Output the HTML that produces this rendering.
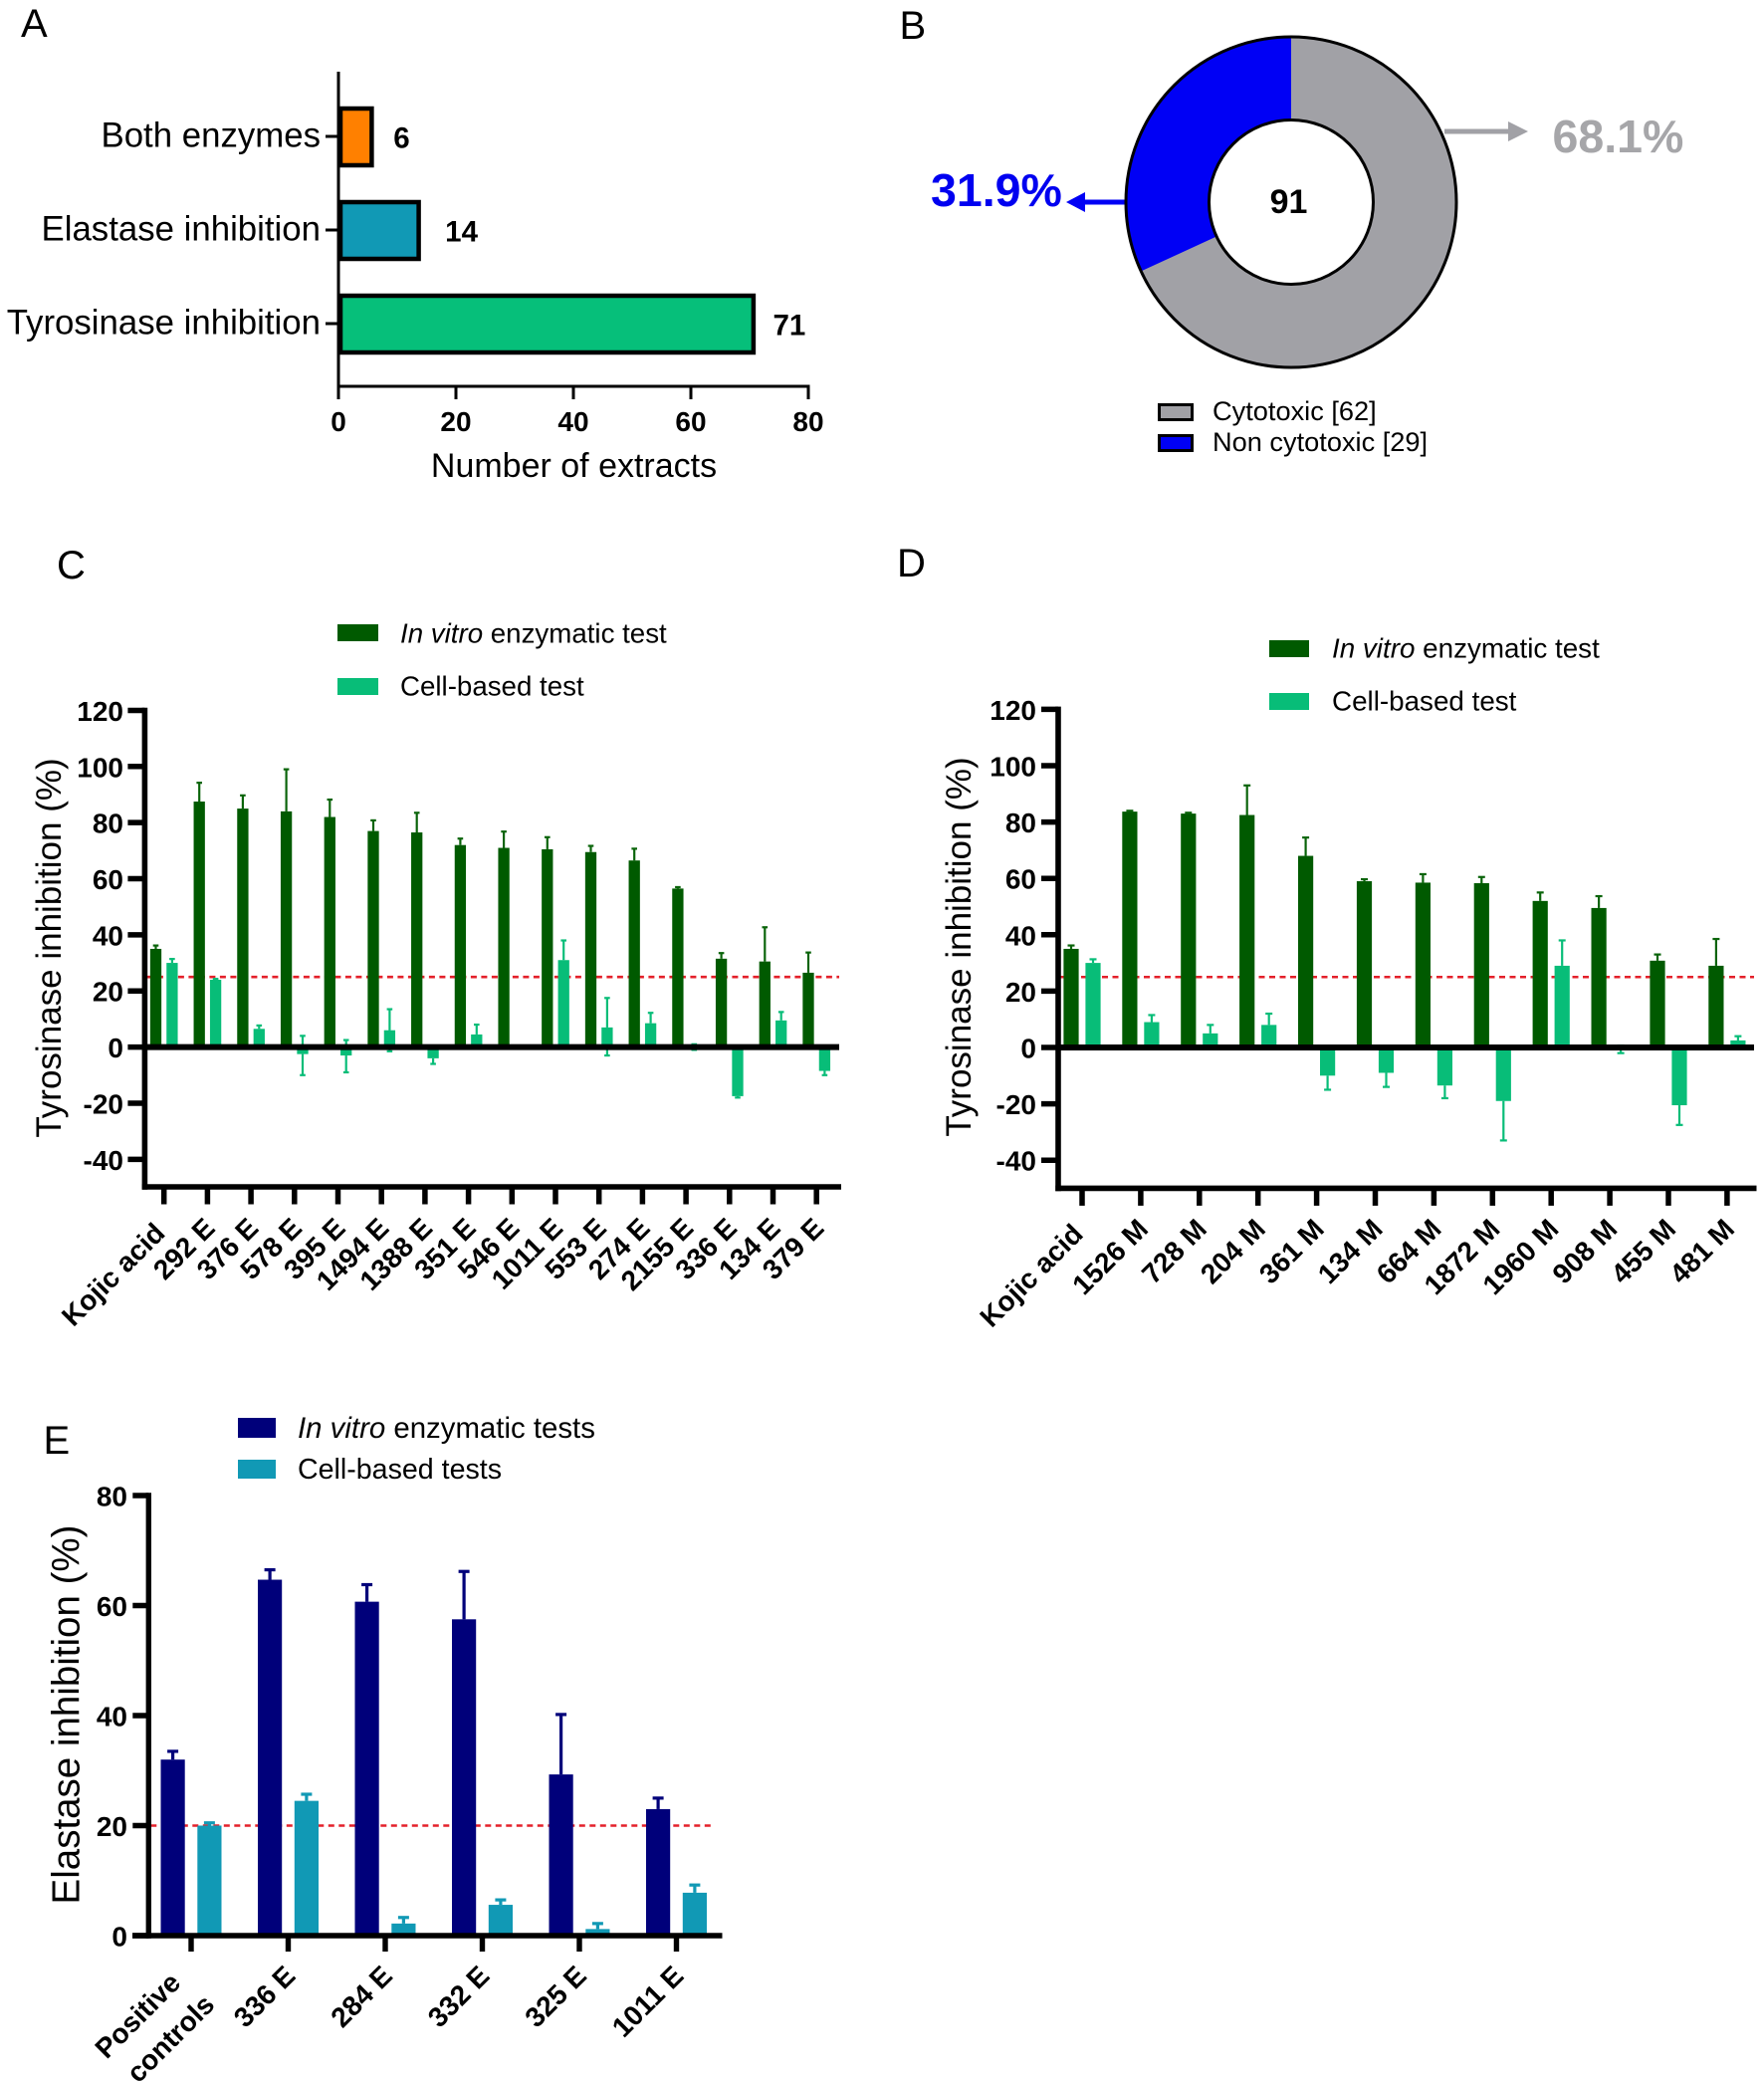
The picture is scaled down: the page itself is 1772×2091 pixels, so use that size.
<!DOCTYPE html>
<html lang="en">
<head>
<meta charset="utf-8">
<title>Extract screening figure</title>
<style>
html,body{margin:0;padding:0;background:#fff}
svg{display:block}
text{font-family:"Liberation Sans",Arial,sans-serif;fill:#000}
.b{font-weight:700}
.pl{font-size:40px}
</style>
</head>
<body>
<svg id="fig" xmlns="http://www.w3.org/2000/svg" width="1772" height="2091" viewBox="0 0 1772 2091">
  <rect x="0" y="0" width="1772" height="2091" fill="#fff"/>

  <text class="pl" x="21" y="37">A</text>
  <text class="pl" x="903.5" y="39">B</text>
  <text class="pl" x="57" y="581">C</text>
  <text class="pl" x="901" y="579">D</text>
  <text class="pl" x="43.5" y="1460">E</text>

  <g id="panelA">
    <text x="576.5" y="479" font-size="34" text-anchor="middle">Number of extracts</text>
  </g>

  <g id="panelB">
    <rect x="1164.5" y="406.5" width="33" height="15" fill="#a1a1a6" stroke="#000" stroke-width="3"/>
    <rect x="1164.5" y="437.5" width="33" height="15" fill="#0000f5" stroke="#000" stroke-width="3"/>
    <text x="1218" y="422" font-size="27.2">Cytotoxic [62]</text>
    <text x="1218" y="453" font-size="27.2">Non cytotoxic [29]</text>
    <path d="M1451 132H1518" stroke="#a1a1a6" stroke-width="5" fill="none"/>
    <path d="M1535 132L1515 122V142Z" fill="#a1a1a6"/>
    <path d="M1130 203H1086" stroke="#0000f5" stroke-width="5" fill="none"/>
    <path d="M1071 203L1090 193V213Z" fill="#0000f5"/>
    <text class="b" x="1559.5" y="153" font-size="46.5" style="fill:#a6a6a9">68.1%</text>
    <text class="b" x="935" y="207" font-size="46.5" style="fill:#0000f0">31.9%</text>
  </g>

  <g id="panelC">
    <text transform="translate(61,952) rotate(-90)" font-size="35" text-anchor="middle">Tyrosinase inhibition (%)</text>
    <rect x="339" y="627" width="41" height="17" fill="#005a00"/>
    <rect x="339" y="681" width="41" height="17" fill="#08bd78"/>
    <text x="402" y="645.5" font-size="27.7"><tspan font-style="italic">In vitro</tspan> enzymatic test</text>
    <text x="402" y="698.5" font-size="27.7">Cell-based test</text>
  </g>

  <g id="panelD">
    <text transform="translate(975,951) rotate(-90)" font-size="35" text-anchor="middle">Tyrosinase inhibition (%)</text>
    <rect x="1275" y="643" width="40" height="17" fill="#005a00"/>
    <rect x="1275" y="696" width="40" height="17" fill="#08bd78"/>
    <text x="1338" y="660.5" font-size="27.8"><tspan font-style="italic">In vitro</tspan> enzymatic test</text>
    <text x="1338" y="713.5" font-size="27.8">Cell-based test</text>
  </g>

  <g id="panelE">
    <text transform="translate(79.5,1722) rotate(-90)" font-size="38.5" text-anchor="middle">Elastase inhibition (%)</text>
    <rect x="239" y="1424" width="38" height="20" fill="#00007a"/>
    <rect x="239" y="1466" width="38" height="19" fill="#1199b5"/>
    <text x="299" y="1444" font-size="29.4"><tspan font-style="italic">In vitro</tspan> enzymatic tests</text>
    <text x="299" y="1485" font-size="28.6">Cell-based tests</text>
  </g>
</svg>

<script>
// ---- Panel A data ----
var aCategories = ['Both enzymes', 'Elastase inhibition', 'Tyrosinase inhibition'];
var aValues = [6, 14, 71];
var aTicks = [0, 20, 40, 60, 80];

// ---- Panel B data ----
var bCytotoxic = 62;
var bNonCytotoxic = 29;

// ---- Panel C data ----
var cCategories = ['Kojic acid','292 E','376 E','578 E','395 E','1494 E','1388 E','351 E','546 E','1011 E','553 E','274 E','2155 E','336 E','134 E','379 E'];
var cVitro = [35,87.5,85,84,82,77,76.5,72,71,70.5,69.5,66.5,56.5,31.5,30.5,26.5];
var cVitroErr = [1.2,6.7,4.7,15,6.2,3.8,7,2.3,5.8,4.3,2.2,4.2,0.5,2,12.2,7.2];
var cCell = [30,24,6.5,-2.5,-3,6,-4,4.5,0,31,7,8.5,-0.5,-17.5,9.5,-8.5];
var cCellErrUp = [1.4,0.3,1.2,6.5,5.5,7.5,0,3.5,0,7,10.5,3.7,1.5,0,3,0];
var cCellErrDown = [0,0,0,7.5,6,7.5,2,0,0,0,10,0,0.5,0.5,0,1.5];
var cTicks = [-40,-20,0,20,40,60,80,100,120];
var cThreshold = 25;

// ---- Panel D data ----
var dCategories = ['Kojic acid','1526 M','728 M','204 M','361 M','134 M','664 M','1872 M','1960 M','908 M','455 M','481 M'];
var dVitro = [35,83.7,83,82.5,68,59,58.5,58.3,52,49.5,30.8,29];
var dVitroErr = [1.2,0.3,0.3,10.5,6.5,0.7,3,2.2,3,4.2,2.2,9.5];
var dCell = [30,9,5,8,-10,-9,-13.5,-19,29,-0.3,-20.5,2.5];
var dCellErrUp = [1.3,2.5,3,4,0,0,0,0,9,1,0,1.5];
var dCellErrDown = [0,0,0,0,5,5,4.5,14,0,1.7,7,0];
var dTicks = [-40,-20,0,20,40,60,80,100,120];
var dThreshold = 25;

// ---- Panel E data ----
var eCategories = ['Positive|controls','336 E','284 E','332 E','325 E','1011 E'];
var eVitro = [32,64.7,60.7,57.5,29.3,23];
var eVitroErr = [1.5,1.8,3.1,8.7,10.9,2];
var eCell = [20,24.5,2.2,5.6,1.2,7.8];
var eCellErr = [0.5,1.2,1.1,0.9,1,1.4];
var eCellErrDown = [0,0,0,0,0,0];
var eTicks = [0,20,40,60,80];
var eThreshold = 20;

var NS = 'http://www.w3.org/2000/svg';
function mk(tag, parent, props) {
  var el = document.createElementNS(NS, tag);
  for (var k in props) el.setAttribute(k, props[k]);
  parent.appendChild(el);
  return el;
}
function line(parent, x1, y1, x2, y2, color, w) {
  return mk('line', parent, {x1:x1, y1:y1, x2:x2, y2:y2, stroke:color, 'stroke-width':w});
}

// ---------- Panel A ----------
(function () {
  var g = document.getElementById('panelA');
  var xA = function (v) { return 340 + v * 5.9; };
  var rowA = function (i) { return 137 + i * 94; };
  var labelGap = [28, 41, 34];
  var axisY = line(g, 340, 72, 340, 388, '#000', 3);
  
  
  var axisX = line(g, 340, 388, xA(80) + 1.5, 388, '#000', 3);
  
  
  var fills = ['#ff8000', '#1199b5', '#06bf7a'];
  aCategories.forEach(function (c, i) {
    var bar = mk('rect', g, {x:342, y:rowA(i) - 28, width:xA(aValues[i]) - 344, height:57, fill:fills[i], stroke:'#000', 'stroke-width':4.5});
    
    
    var tick = line(g, 327, rowA(i), 340, rowA(i), '#000', 3);
    
    
    var lab = mk('text', g, {x:322, y:rowA(i) + 10.5, 'font-size':34.8, 'text-anchor':'end'});
    lab.textContent = c;
    
    
    var val = mk('text', g, {x:xA(aValues[i]) + labelGap[i], y:rowA(i) + 11.5, 'font-size':29.5, 'font-weight':700, 'text-anchor':'middle'});
    val.textContent = aValues[i];
    
    
  });
  aTicks.forEach(function (t) {
    var tk = line(g, xA(t), 388, xA(t), 401, '#000', 3);
    
    
    var lab = mk('text', g, {x:xA(t), y:433, 'font-size':28, 'font-weight':700, 'text-anchor':'middle'});
    lab.textContent = t;
    
    
  });
})();

// ---------- Panel B ----------
(function () {
  var g = document.getElementById('panelB');
  var cx = 1297, cy = 203, R = 166, r = 82.5;
  var total = bCytotoxic + bNonCytotoxic;
  var a = 2 * Math.PI * bNonCytotoxic / total;
  var ex = cx - R * Math.sin(a), ey = cy - R * Math.cos(a);
  var ix = cx - r * Math.sin(a), iy = cy - r * Math.cos(a);
  var base = mk('circle', g, {cx:cx, cy:cy, r:R, fill:'#a1a1a6'});
  
  
  var large = a > Math.PI ? 1 : 0;
  var slice = mk('path', g, {d:'M' + cx + ' ' + (cy - R) + 'A' + R + ' ' + R + ' 0 ' + large + ' 0 ' + ex + ' ' + ey + 'L' + ix + ' ' + iy + 'A' + r + ' ' + r + ' 0 ' + large + ' 1 ' + cx + ' ' + (cy - r) + 'Z', fill:'#0000f5'});
  
  
  var outer = mk('circle', g, {cx:cx, cy:cy, r:R, fill:'none', stroke:'#000', 'stroke-width':3});
  
  
  var inner = mk('circle', g, {cx:cx, cy:cy, r:r, fill:'#fff', stroke:'#000', 'stroke-width':3});
  
  
  var tot = mk('text', g, {x:1294.5, y:214, 'font-size':34, 'font-weight':700, 'text-anchor':'middle'});
  tot.textContent = total;
  
  
})();

// ---------- Grouped bar panels ----------
function grouped(g, cfg, cats, ticks, thr, vitro, vitroErr, cell, cellUp, cellDown) {
  var y = function (v) { return cfg.y0 - v * cfg.unit; };
  var xT = function (i) { return cfg.x0 + i * cfg.step; };

  var red = line(g, cfg.axisX + 2, y(thr), cfg.right, y(thr), '#e4202a', 2.6);
  red.setAttribute('stroke-dasharray', '6 4.5');
  
  

  cats.forEach(function (c, i) {
    var slug = c.toLowerCase().replace(/[ |]/g, '-');
    var xa = xT(i) - cfg.off;
    var xb = xT(i) + cfg.off;

    var wa = line(g, xa, y(vitro[i]), xa, y(vitro[i] + vitroErr[i]), cfg.c1err, cfg.errW);
    
    
    var ca = line(g, xa - cfg.cap, y(vitro[i] + vitroErr[i]), xa + cfg.cap, y(vitro[i] + vitroErr[i]), cfg.c1err, cfg.errW);
    
    
    var ba = mk('rect', g, {x:xa - cfg.barW / 2, y:y(vitro[i]), width:cfg.barW, height:Math.max(0, y(0) - y(vitro[i])), fill:cfg.c1});
    
    

    var v = cell[i];
    if (cellUp[i] > 0) {
      var wu = line(g, xb, y(v), xb, y(v + cellUp[i]), cfg.c2err, cfg.errW);
      
      
      var cu = line(g, xb - cfg.cap, y(v + cellUp[i]), xb + cfg.cap, y(v + cellUp[i]), cfg.c2err, cfg.errW);
      
      
    }
    if (cellDown[i] > 0) {
      var wd = line(g, xb, y(v), xb, y(v - cellDown[i]), cfg.c2err, cfg.errW);
      
      
      var cd = line(g, xb - cfg.cap, y(v - cellDown[i]), xb + cfg.cap, y(v - cellDown[i]), cfg.c2err, cfg.errW);
      
      
    }
    var bb = mk('rect', g, {x:xb - cfg.barW / 2, y:Math.min(y(0), y(v)), width:cfg.barW, height:Math.abs(y(v) - y(0)), fill:cfg.c2});
    
    

    var tk = line(g, xT(i), cfg.yBase, xT(i), cfg.yBase + cfg.tickLen, '#000', cfg.tickW);
    
    

    var twoLine = c.indexOf('|') >= 0;
    var hasDesc = /[jgpqy]/.test(c) && !twoLine;
    c.split('|').forEach(function (part, n) {
      var px = xT(i) + cfg.labDx;
      var py = cfg.labY;
      if (hasDesc) { px -= 6.5; py += 5; }
      if (twoLine) { px += -17.7 + n * 34; py += 7 + n * 22; }
      var lab = mk('text', g, {transform:'translate(' + px + ',' + py + ') rotate(-45)', 'font-size':cfg.labFont, 'font-weight':700, 'text-anchor':'end'});
      lab.textContent = part;
      
      
    });
  });

  ticks.forEach(function (t) {
    var tk = line(g, cfg.axisX - cfg.yTickLen, y(t), cfg.axisX, y(t), '#000', cfg.tickW);
    
    
    var lab = mk('text', g, {x:cfg.labRight, y:y(t) + 10.5, 'font-size':28, 'font-weight':700, 'text-anchor':'end'});
    lab.textContent = t;
    
    
  });

  var ax = line(g, cfg.axisX, y(ticks[ticks.length - 1]) - cfg.tickW / 2, cfg.axisX, cfg.yBase + cfg.axisW / 2, '#000', cfg.axisW);
  
  
  var bx = line(g, cfg.baseLeft, cfg.yBase, cfg.baseRight, cfg.yBase, '#000', cfg.axisW);
  
  
  if (cfg.yBase !== y(0)) {
    var zl = line(g, cfg.axisX, y(0), cfg.zeroRight, y(0), '#000', 6);
    
    
  }
}

grouped(document.getElementById('panelC'), {
  y0:1051.6, unit:2.818, x0:164.7, step:43.7, off:8.2, barW:11.3, cap:2.8, errW:2.2,
  c1:'#005a00', c2:'#08bd78', c1err:'#0a640a', c2err:'#08bd78',
  axisX:145.4, axisW:5.6, yBase:1192, baseLeft:142.7, baseRight:845, zeroRight:843, right:843,
  tickLen:17.5, yTickLen:17, tickW:5.5, labDx:9, labY:1235, labFont:28, labRight:124
}, cCategories, cTicks, cThreshold, cVitro, cVitroErr, cCell, cCellErrUp, cCellErrDown);

grouped(document.getElementById('panelD'), {
  y0:1052, unit:2.83, x0:1087, step:58.9, off:11, barW:15.2, cap:3.5, errW:2.2,
  c1:'#005a00', c2:'#08bd78', c1err:'#0a640a', c2err:'#08bd78',
  axisX:1063, axisW:5.6, yBase:1193.4, baseLeft:1060.3, baseRight:1764.5, zeroRight:1762, right:1762,
  tickLen:17.5, yTickLen:17, tickW:5.5, labDx:9, labY:1236, labFont:28, labRight:1041
}, dCategories, dTicks, dThreshold, dVitro, dVitroErr, dCell, dCellErrUp, dCellErrDown);

grouped(document.getElementById('panelE'), {
  y0:1944, unit:5.525, x0:192, step:97.5, off:18.4, barW:24.2, cap:5.5, errW:3.2,
  c1:'#00007a', c2:'#1199b5', c1err:'#00007a', c2err:'#1199b5',
  axisX:149.3, axisW:5.4, yBase:1944, baseLeft:133, baseRight:725.5, zeroRight:725, right:717,
  tickLen:16, yTickLen:16, tickW:5.4, labDx:8.7, labY:1986, labFont:28, labRight:128
}, eCategories, eTicks, eThreshold, eVitro, eVitroErr, eCell, eCellErr, eCellErrDown);
</script>
</body>
</html>
